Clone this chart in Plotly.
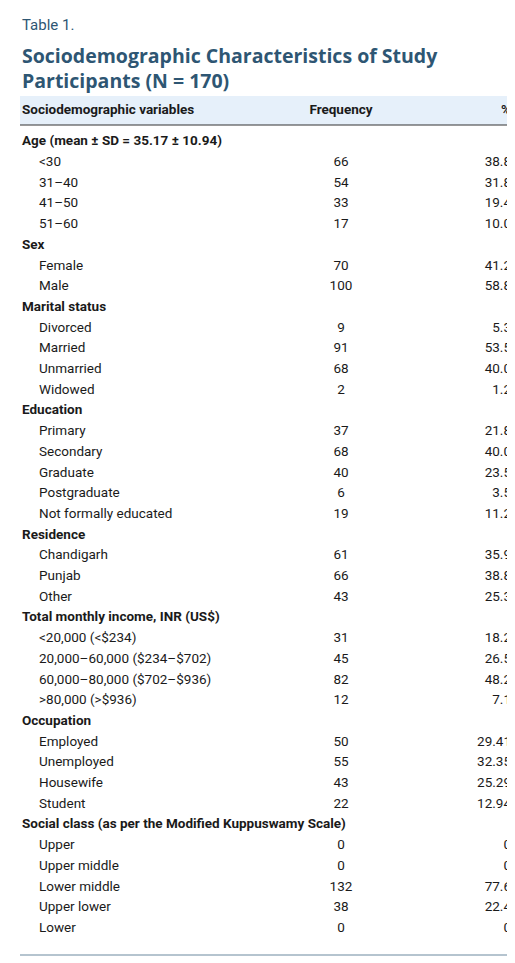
import plotly.graph_objects as go

groups = ["Age (mean ± SD = 35.17 ± 10.94)", "Sex", "Marital status", "Education", "Residence",
          "Total monthly income, INR (US$)", "Occupation",
          "Social class (as per the Modified Kuppuswamy Scale)"]
items = [
    ["<30", "31–40", "41–50", "51–60"],
    ["Female", "Male"],
    ["Divorced", "Married", "Unmarried", "Widowed"],
    ["Primary", "Secondary", "Graduate", "Postgraduate", "Not formally educated"],
    ["Chandigarh", "Punjab", "Other"],
    ["<20,000 (<$234)", "20,000–60,000 ($234–$702)", "60,000–80,000 ($702–$936)", ">80,000 (>$936)"],
    ["Employed", "Unemployed", "Housewife", "Student"],
    ["Upper", "Upper middle", "Lower middle", "Upper lower", "Lower"],
]
freq = [[66, 54, 33, 17], [70, 100], [9, 91, 68, 2], [37, 68, 40, 6, 19], [61, 66, 43],
        [31, 45, 82, 12], [50, 55, 43, 22], [0, 0, 132, 38, 0]]
pct = [["38.8", "31.8", "19.4", "10.0"], ["41.2", "58.8"], ["5.3", "53.5", "40.0", "1.2"],
       ["21.8", "40.0", "23.5", "3.5", "11.2"], ["35.9", "38.8", "25.3"],
       ["18.2", "26.5", "48.2", "7.1"], ["29.41", "32.35", "25.29", "12.94"],
       ["0", "0", "77.6", "22.4", "0"]]


def esc(s):
    return s.replace("<", "&lt;").replace(">", "&gt;")


g_rows, g_text = [], []
i_rows, i_text, i_freq, i_pct = [], [], [], []
r = 0
for g, it, f, p in zip(groups, items, freq, pct):
    g_rows.append(r); g_text.append("<b>" + esc(g) + "</b>")
    r += 1
    for a, b, c in zip(it, f, p):
        i_rows.append(r); i_text.append(esc(a)); i_freq.append(str(b)); i_pct.append(c)
        r += 1

font = "Roboto, sans-serif"
fs = 13.5
col = "#1a1a1a"
fig = go.Figure()
fig.add_trace(go.Scatter(x=[14] * len(g_rows), y=g_rows, text=g_text, mode="text",
                         textposition="middle right", textfont=dict(family=font, size=fs, color=col)))
fig.add_trace(go.Scatter(x=[31] * len(i_rows), y=i_rows, text=i_text, mode="text",
                         textposition="middle right", textfont=dict(family=font, size=fs, color=col)))
fig.add_trace(go.Scatter(x=[333] * len(i_rows), y=i_rows, text=i_freq, mode="text",
                         textposition="middle center", textfont=dict(family=font, size=fs, color=col)))
fig.add_trace(go.Scatter(x=[503] * len(i_rows), y=i_rows, text=i_pct, mode="text",
                         textposition="middle left", textfont=dict(family=font, size=fs, color=col)))
# header
fig.add_trace(go.Scatter(x=[14], y=[-1.5], text=["<b>Sociodemographic variables</b>"], mode="text",
                         textposition="middle right", textfont=dict(family=font, size=fs, color=col)))
fig.add_trace(go.Scatter(x=[333], y=[-1.5], text=["<b>Frequency</b>"], mode="text",
                         textposition="middle center", textfont=dict(family=font, size=fs, color=col)))
fig.add_trace(go.Scatter(x=[503], y=[-1.5], text=["<b>%</b>"], mode="text",
                         textposition="middle left", textfont=dict(family=font, size=fs, color=col)))

step = 20.7
top = -134 / step
bottom = (963 - 134) / step
fig.update_layout(
    width=515, height=963, margin=dict(l=0, r=0, t=0, b=0),
    paper_bgcolor="white", plot_bgcolor="white", showlegend=False,
    xaxis=dict(range=[0, 515], visible=False, fixedrange=True),
    yaxis=dict(range=[bottom, top], visible=False, fixedrange=True),
    annotations=[
        dict(text="Table 1.", x=12 / 515, y=1 - 6 / 963, xref="paper", yref="paper",
             xanchor="left", yanchor="top", showarrow=False,
             font=dict(family=font, size=15, color="#2e5673")),
        dict(text="<b>Sociodemographic Characteristics of Study<br>Participants (N = 170)</b>",
             x=12 / 515, y=1 - 32 / 963, xref="paper", yref="paper", xanchor="left", yanchor="top",
             showarrow=False, align="left",
             font=dict(family="Open Sans, sans-serif", size=19.5, color="#2e5673")),
    ],
    shapes=[
        dict(type="rect", x0=12, x1=503, y0=(88 - 134) / step, y1=(117 - 134) / step,
             fillcolor="#e6f0fa", line=dict(width=0), layer="below"),
        dict(type="line", x0=12, x1=503, y0=(117 - 134) / step, y1=(117 - 134) / step,
             line=dict(color="#333333", width=1.2)),
        dict(type="line", x0=12, x1=503, y0=(947 - 134) / step, y1=(947 - 134) / step,
             line=dict(color="#6d8aa0", width=1.2)),
    ],
)
fig.write_html("out.html")
